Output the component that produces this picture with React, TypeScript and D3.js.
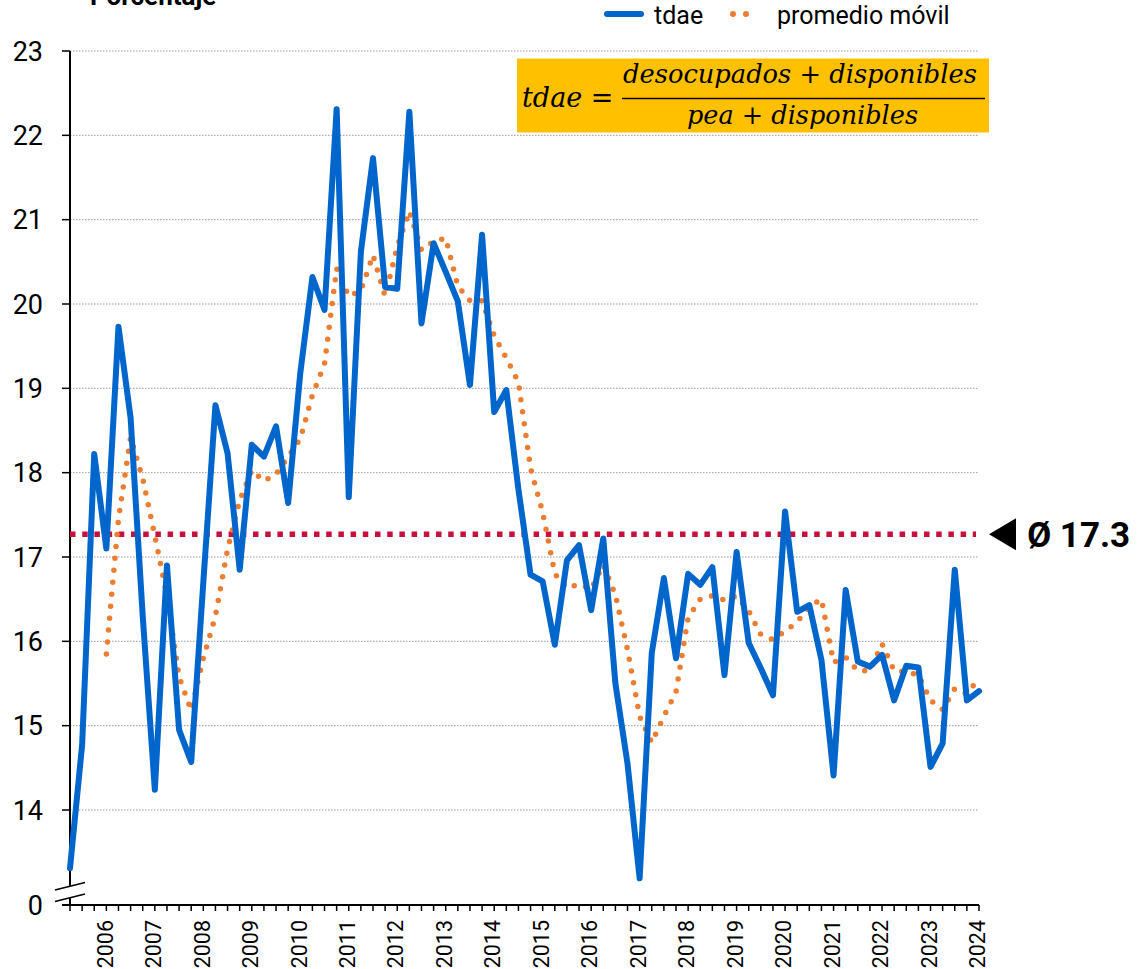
import React from "react";
import * as d3 from "d3";

const tdae: number[] = [
  13.31, 14.77, 18.22, 17.10, 19.73, 18.65, 16.30, 14.24, 16.90, 14.95,
  14.57, 16.70, 18.80, 18.23, 16.85, 18.33, 18.19, 18.55, 17.64, 19.18,
  20.32, 19.93, 22.31, 17.71, 20.62, 21.73, 20.20, 20.18, 22.28, 19.77,
  20.72, 20.38, 20.03, 19.04, 20.82, 18.72, 18.98, 17.80, 16.79, 16.71,
  15.96, 16.96, 17.14, 16.37, 17.22, 15.50, 14.55, 13.19, 15.86, 16.75,
  15.80, 16.80, 16.67, 16.88, 15.60, 17.06, 15.98, 15.68, 15.36, 17.54,
  16.35, 16.43, 15.78, 14.41, 16.61, 15.76, 15.70, 15.84, 15.30, 15.71,
  15.69, 14.51, 14.79, 16.85, 15.30, 15.41,
];

// moving average (starts at 4th quarter)
const promedioMovil: (number | null)[] = [
  null, null, null, 15.85, 17.45, 18.42, 17.93, 17.25, 16.54, 15.58,
  15.18, 15.80, 16.30, 17.09, 17.67, 18.03, 17.90, 17.98, 18.19, 18.40,
  18.92, 19.29, 20.42, 20.09, 20.16, 20.58, 20.09, 20.68, 21.10, 20.64,
  20.74, 20.78, 20.21, 20.04, 20.04, 19.62, 19.36, 19.07, 18.05, 17.53,
  16.80, 16.63, 16.68, 16.62, 16.91, 16.55, 15.90, 15.11, 14.80, 15.11,
  15.40, 16.28, 16.50, 16.54, 16.49, 16.54, 16.36, 16.08, 16.02, 16.12,
  16.23, 16.41, 16.50, 15.75, 15.81, 15.65, 15.65, 15.97, 15.65, 15.64,
  15.60, 15.30, 15.19, 15.44, 15.38, 15.56,
];

const yearLabels: string[] = [
  "2006", "2007", "2008", "2009", "2010", "2011", "2012", "2013", "2014", "2015",
  "2016", "2017", "2018", "2019", "2020", "2021", "2022", "2023", "2024",
];
const yTicks: number[] = [14, 15, 16, 17, 18, 19, 20, 21, 22, 23];
const baseLabel = "0";
const promedio = 17.27;
const promedioLabel = "Ø 17.3";
const seriesNames = ["tdae", "promedio móvil"];
const yTitle = "Porcentaje";

const BLUE = "#0066CC";
const ORANGE = "#ED7D31";
const CRIMSON = "#C8103C";

export default function App() {
  const left = 70;
  const right = 979;
  const top = 51;
  const axisY = 905;

  const x = d3.scaleLinear().domain([0, tdae.length - 1]).range([left, right]);
  const y = d3.scaleLinear().domain([14, 23]).range([810, top]);

  const blueLine = d3
    .line<number>()
    .x((_, i) => x(i))
    .y((d) => y(d))(tdae) as string;

  const orangeLine = d3
    .line<number | null>()
    .defined((d) => d !== null)
    .x((_, i) => x(i))
    .y((d) => y(d as number))(promedioMovil) as string;

  const avgY = y(promedio);
  const font = "Roboto, 'Noto Sans', Arial, sans-serif";

  return (
    <svg
      width={1140}
      height={969}
      style={{ position: "absolute", left: 0, top: 0, background: "#fff" }}
      fontFamily={font}
    >
      {/* title (cut at the top edge as in the reference) */}
      <text x={90} y={5} fontSize={26} fontWeight="bold" fill="#000">
        {yTitle}
      </text>

      {/* legend */}
      <line x1={607} x2={641} y1={14} y2={14} stroke={BLUE} strokeWidth={6} strokeLinecap="round" />
      <text x={654} y={24} fontSize={25} fill="#000">{seriesNames[0]}</text>
      <circle cx={733} cy={14} r={3} fill={ORANGE} />
      <circle cx={746} cy={14} r={3} fill={ORANGE} />
      <text x={777} y={24} fontSize={25} fill="#000">{seriesNames[1]}</text>

      {/* gridlines */}
      {yTicks.map((t) => (
        <line
          key={"g" + t}
          x1={left}
          x2={right}
          y1={y(t)}
          y2={y(t)}
          stroke="#9a9a9a"
          strokeWidth={1}
          strokeDasharray="1.5 1.5"
        />
      ))}

      {/* formula box */}
      <rect x={517} y={58.5} width={472} height={74} fill="#FFC000" />
      <text x={522} y={107} fontSize={27} fontFamily="'DejaVu Serif', serif" fill="#000">
        <tspan fontStyle="italic">tdae</tspan>
        <tspan> = </tspan>
      </text>
      <text
        x={623}
        y={83}
        fontSize={26}
        fontFamily="'DejaVu Serif', serif"
        fill="#000"
        textLength={354}
        lengthAdjust="spacingAndGlyphs"
      >
        <tspan fontStyle="italic">desocupados</tspan>
        <tspan> + </tspan>
        <tspan fontStyle="italic">disponibles</tspan>
      </text>
      <line x1={622} x2={985} y1={98.5} y2={98.5} stroke="#000" strokeWidth={1.6} />
      <text
        x={687}
        y={124}
        fontSize={26}
        fontFamily="'DejaVu Serif', serif"
        fill="#000"
        textLength={231}
        lengthAdjust="spacingAndGlyphs"
      >
        <tspan fontStyle="italic">pea</tspan>
        <tspan> + </tspan>
        <tspan fontStyle="italic">disponibles</tspan>
      </text>

      {/* y axis */}
      <line x1={left} x2={left} y1={top} y2={axisY} stroke="#000" strokeWidth={2} />
      {yTicks.map((t) => (
        <g key={"yt" + t}>
          <line x1={62} x2={left} y1={y(t)} y2={y(t)} stroke="#000" strokeWidth={1.5} />
          <text
            x={43}
            y={y(t)}
            dy="0.36em"
            textAnchor="end"
            fontSize={27}
            fill="#000"
          >
            {t}
          </text>
        </g>
      ))}
      <text x={43} y={axisY} dy="0.36em" textAnchor="end" fontSize={27} fill="#000">
        {baseLabel}
      </text>

      {/* x axis */}
      <line x1={62} x2={right} y1={axisY} y2={axisY} stroke="#000" strokeWidth={2} />
      {tdae.map((_, i) => (
        <line
          key={"xt" + i}
          x1={x(i)}
          x2={x(i)}
          y1={axisY}
          y2={axisY + 6}
          stroke="#000"
          strokeWidth={1.5}
        />
      ))}
      {yearLabels.map((lab, k) => {
        const xi = x(3 + 4 * k) - 1.5;
        return (
          <text
            key={lab}
            transform={`translate(${xi},920) rotate(-90)`}
            textAnchor="end"
            dy="0.36em"
            fontSize={21.5}
            fill="#000"
          >
            {lab}
          </text>
        );
      })}

      {/* axis break */}
      <polygon points="55,890 85,882.5 85,894 55,901.5" fill="#fff" />
      <line x1={55} y1={890} x2={85} y2={882.5} stroke="#000" strokeWidth={1.8} />
      <line x1={55} y1={901.5} x2={85} y2={894} stroke="#000" strokeWidth={1.8} />

      {/* average line */}
      <line
        x1={left}
        x2={976}
        y1={avgY}
        y2={avgY}
        stroke={CRIMSON}
        strokeWidth={5.5}
        strokeDasharray="5.5 6.7"
      />
      <polygon
        points={`989,${avgY} 1016,${avgY - 16} 1016,${avgY + 16}`}
        fill="#000"
      />
      <text x={1027} y={avgY} dy="0.36em" fontSize={35} fontWeight="bold" fill="#000">
        {promedioLabel}
      </text>

      {/* series */}
      <path
        d={orangeLine}
        fill="none"
        stroke={ORANGE}
        strokeWidth={5.5}
        strokeDasharray="0 12"
        strokeLinecap="round"
        strokeLinejoin="round"
      />
      <path
        d={blueLine}
        fill="none"
        stroke={BLUE}
        strokeWidth={6}
        strokeLinejoin="round"
        strokeLinecap="round"
      />
    </svg>
  );
}
